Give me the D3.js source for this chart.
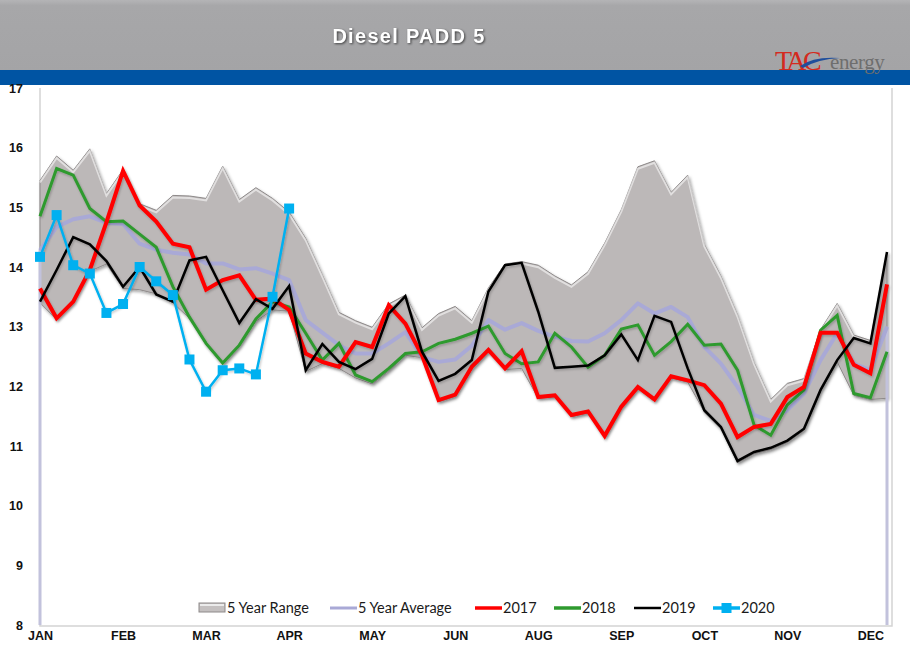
<!DOCTYPE html>
<html><head><meta charset="utf-8">
<script src="https://cdn.jsdelivr.net/npm/d3@7"></script>
<style>
html,body{margin:0;padding:0;background:#fff;}
svg{display:block;}
</style></head>
<body>
<svg id="chart" width="910" height="661"></svg>
<script>
// ---------------- DATA ----------------
const title = "Diesel PADD 5";
const weeks = d3.range(52);
const monthLabels = ["JAN","FEB","MAR","APR","MAY","JUN","AUG","SEP","OCT","NOV","DEC"];
const monthLabelWeeks = [0,5,10,15,20,25,30,35,40,45,50];
const yTicks = [8,9,10,11,12,13,14,15,16,17];

const rangeHigh = [15.45,15.86,15.62,15.98,15.23,15.63,15.06,14.95,15.20,15.19,15.15,15.69,15.13,15.33,15.15,14.92,14.48,13.87,13.24,13.10,12.99,13.38,13.53,12.98,13.22,13.34,13.10,13.65,14.05,14.09,14.03,13.85,13.70,13.92,14.40,14.96,15.68,15.78,15.25,15.54,14.38,13.85,13.20,12.40,11.78,12.05,12.13,12.95,13.39,12.86,12.77,14.25];
const rangeLow  = [13.40,13.12,13.40,13.93,14.05,13.64,13.62,13.55,13.40,13.14,12.70,12.37,12.67,13.09,13.28,13.26,12.25,12.38,12.30,12.14,12.04,12.26,12.52,12.48,11.74,11.83,12.28,12.58,12.28,12.30,11.80,11.82,11.49,11.55,11.14,11.63,11.96,11.75,12.14,12.07,11.57,11.29,10.72,10.87,10.94,11.06,11.26,11.91,12.41,11.85,11.78,11.80];
const avg5 = [14.28,14.67,14.80,14.85,14.74,14.72,14.39,14.29,14.24,14.21,14.06,14.06,13.96,13.98,13.89,13.78,13.11,12.90,12.69,12.55,12.55,12.72,12.91,12.49,12.41,12.45,12.68,13.11,12.95,13.06,12.93,12.83,12.76,12.75,12.89,13.11,13.39,13.22,13.33,13.16,12.66,12.38,11.99,11.52,11.42,11.60,11.88,12.44,12.89,12.38,12.27,13.00];
const y2017 = [13.64,13.14,13.42,13.95,14.75,15.61,15.03,14.76,14.39,14.33,13.62,13.78,13.86,13.45,13.47,13.28,12.55,12.41,12.33,12.74,12.66,13.36,13.05,12.52,11.77,11.86,12.33,12.61,12.30,12.59,11.82,11.85,11.52,11.58,11.17,11.66,11.99,11.78,12.17,12.10,12.02,11.71,11.15,11.32,11.37,11.82,11.99,12.90,12.90,12.36,12.22,13.71];
const y2018 = [14.85,15.65,15.54,14.98,14.76,14.77,14.55,14.33,13.67,13.16,12.72,12.39,12.69,13.13,13.42,13.33,12.89,12.44,12.72,12.19,12.08,12.30,12.55,12.58,12.72,12.79,12.89,13.01,12.55,12.38,12.41,12.89,12.66,12.32,12.52,12.96,13.03,12.52,12.75,13.04,12.69,12.71,12.27,11.35,11.18,11.69,11.94,12.94,13.19,11.88,11.81,12.58];
const y2019 = [13.42,13.95,14.50,14.38,14.10,13.67,14.00,13.54,13.42,14.11,14.17,13.61,13.06,13.46,13.30,13.68,12.27,12.71,12.41,12.29,12.46,13.22,13.51,12.58,12.09,12.21,12.44,13.59,14.03,14.07,13.25,12.31,12.33,12.35,12.52,12.87,12.44,13.18,13.08,12.30,11.60,11.32,10.75,10.90,10.97,11.09,11.29,11.94,12.44,12.81,12.72,14.25];
const y2020 = [14.17,14.87,14.03,13.89,13.23,13.38,14.00,13.76,13.53,12.45,11.91,12.27,12.30,12.20,13.50,14.98];

const legendItems = ["5 Year Range","5 Year Average","2017","2018","2019","2020"];

// ---------------- LAYOUT ----------------
const svg = d3.select("#chart");
const W = 910, H = 661;
const plot = {left:40, right:887, top:88, bottom:625};

const x = d3.scalePoint().domain(weeks).range([plot.left, plot.right]);
const y = d3.scaleLinear().domain([8,17]).range([plot.bottom, plot.top]);

const defs = svg.append("defs");
const sh = defs.append("filter").attr("id","shadow").attr("x","-10%").attr("y","-10%").attr("width","130%").attr("height","130%");
sh.append("feDropShadow").attr("dx",1.5).attr("dy",2).attr("stdDeviation",1.5).attr("flood-color","#000").attr("flood-opacity",0.35);
const lsh = defs.append("filter").attr("id","lshadow").attr("x","-10%").attr("y","-10%").attr("width","130%").attr("height","130%");
lsh.append("feDropShadow").attr("dx",1).attr("dy",1.5).attr("stdDeviation",1).attr("flood-color","#000").attr("flood-opacity",0.22);
const hg = defs.append("linearGradient").attr("id","hdr").attr("x1",0).attr("y1",0).attr("x2",0).attr("y2",1);
hg.append("stop").attr("offset","0%").attr("stop-color","#b4b4b6");
hg.append("stop").attr("offset","8%").attr("stop-color","#a7a7a9");
hg.append("stop").attr("offset","100%").attr("stop-color","#a4a4a6");

// header
svg.append("rect").attr("x",0).attr("y",0).attr("width",W).attr("height",71).attr("fill","url(#hdr)");
svg.append("rect").attr("x",0).attr("y",70).attr("width",W).attr("height",15).attr("fill","#0054a3");
svg.append("text").attr("x",409).attr("y",43).attr("text-anchor","middle")
  .attr("font-family","Liberation Sans, Arial, sans-serif").attr("font-weight","bold")
  .attr("font-size",20).attr("letter-spacing",1.3).attr("fill","#fff")
  .style("filter","drop-shadow(1px 1px 1px rgba(0,0,0,0.6))").text(title);

// logo
const logo = svg.append("g");
logo.append("text").attr("x",775).attr("y",70).attr("font-family","Liberation Serif, Times New Roman, serif")
  .attr("font-size",28).attr("fill","#d42a20").attr("letter-spacing",-3.5).text("TAC");
logo.append("path").attr("d","M800,66 Q814,56 840,58 Q818,59 803,68 Z").attr("fill","#1f4e9c");
logo.append("text").attr("x",830).attr("y",69).attr("font-family","Liberation Serif, Times New Roman, serif")
  .attr("font-size",21).attr("letter-spacing",-0.4).attr("fill","#6e6e6e").text("energy");

// plot frame
svg.append("path").attr("d",`M${plot.left},${plot.top} V${plot.bottom+1} H${plot.right+5} V${plot.top}`)
  .attr("fill","none").attr("stroke","#d4d4d4").attr("stroke-width",1.5);

// y axis labels
const yAxis = d3.axisLeft(y).tickValues(yTicks).tickSize(0).tickPadding(0).tickFormat(d3.format("d"));
const ya = svg.append("g").attr("transform","translate(23,0)").call(yAxis);
ya.select(".domain").remove();
ya.selectAll("text").attr("font-family","Liberation Sans Narrow, Arial Narrow, Liberation Sans, sans-serif")
  .attr("font-weight","bold").attr("font-size",12.5).attr("fill","#111");

// x axis labels
const xAxis = d3.axisBottom(x).tickValues(monthLabelWeeks).tickSize(0).tickPadding(0)
  .tickFormat(d => monthLabels[monthLabelWeeks.indexOf(d)]);
const xa = svg.append("g").attr("transform",`translate(0,${plot.bottom+6})`).call(xAxis);
xa.select(".domain").remove();
xa.selectAll("text").attr("font-family","Liberation Sans Narrow, Arial Narrow, Liberation Sans, sans-serif")
  .attr("font-weight","bold").attr("font-size",12.5).attr("fill","#111");

// 5-year range area
const area = d3.area().x((d,i)=>x(i)).y0((d,i)=>y(rangeLow[i])).y1((d,i)=>y(rangeHigh[i]));
svg.append("path").datum(weeks).attr("d",area).attr("fill","#bcb8b8")
  .attr("stroke","#8e8a8a").attr("stroke-width",1).attr("filter","url(#shadow)");
const topLine = d3.line().x((d,i)=>x(i)).y((d,i)=>y(rangeHigh[i])+2);
svg.append("path").datum(weeks).attr("d",topLine).attr("fill","none")
  .attr("stroke","rgba(255,255,255,0.55)").attr("stroke-width",2);

// 5-year average end drops (to the axis at both ends), lighter
[0,51].forEach(i=>{
  svg.append("line").attr("x1",x(i)).attr("x2",x(i)).attr("y1",y(avg5[i])).attr("y2",y.range()[0])
    .attr("stroke","#c2c2dc").attr("stroke-width",3);
});
// 5-year average
svg.append("path").datum(avg5).attr("d",d3.line().x((d,i)=>x(i)).y(d=>y(d))).attr("fill","none")
  .attr("stroke","#a9a9d6").attr("stroke-width",4).attr("stroke-linejoin","round");

function drawLine(vals, color, width){
  const ln = d3.line().x((d,i)=>x(i)).y(d=>y(d));
  svg.append("path").datum(vals).attr("d",ln).attr("fill","none").attr("stroke",color)
    .attr("stroke-width",width).attr("stroke-linejoin","miter").attr("filter","url(#lshadow)");
}
drawLine(y2018, "#2e9a2e", 3);
drawLine(y2017, "#ff0000", 4);
drawLine(y2019, "#000000", 2.5);
drawLine(y2020, "#00b0f0", 2.5);
svg.append("g").selectAll("rect").data(y2020).join("rect")
  .attr("x",(d,i)=>x(i)-5).attr("y",d=>y(d)-5).attr("width",10).attr("height",10).attr("fill","#00b0f0");

// legend
const lg = svg.append("g").attr("font-family","Lato, Noto Sans, sans-serif").attr("font-size",14.5).attr("fill","#1a1a1a");
const ly = 608;
lg.append("rect").attr("x",199).attr("y",ly-5).attr("width",26).attr("height",9).attr("fill","#c4c0c0").attr("stroke","#8e8a8a").attr("stroke-width",1);
lg.append("rect").attr("x",200).attr("y",ly-4).attr("width",24).attr("height",2).attr("fill","#ebebeb");
lg.append("text").attr("x",227).attr("y",ly+5).text(legendItems[0]);
lg.append("line").attr("x1",330).attr("x2",357).attr("y1",ly).attr("y2",ly).attr("stroke","#a9a9d6").attr("stroke-width",3);
lg.append("text").attr("x",358).attr("y",ly+5).text(legendItems[1]);
const lcols = ["#ff0000","#2e9a2e","#000000","#00b0f0"];
const lx = [475,554,634,713];
lcols.forEach((c,k)=>{
  lg.append("line").attr("x1",lx[k]).attr("x2",lx[k]+27).attr("y1",ly).attr("y2",ly).attr("stroke",c).attr("stroke-width",k===2?2.5:3.5);
  lg.append("text").attr("x",lx[k]+28).attr("y",ly+5).text(legendItems[k+2]);
});
lg.append("rect").attr("x",713+13.5-5).attr("y",ly-5).attr("width",10).attr("height",10).attr("fill","#00b0f0");
</script>
</body></html>
